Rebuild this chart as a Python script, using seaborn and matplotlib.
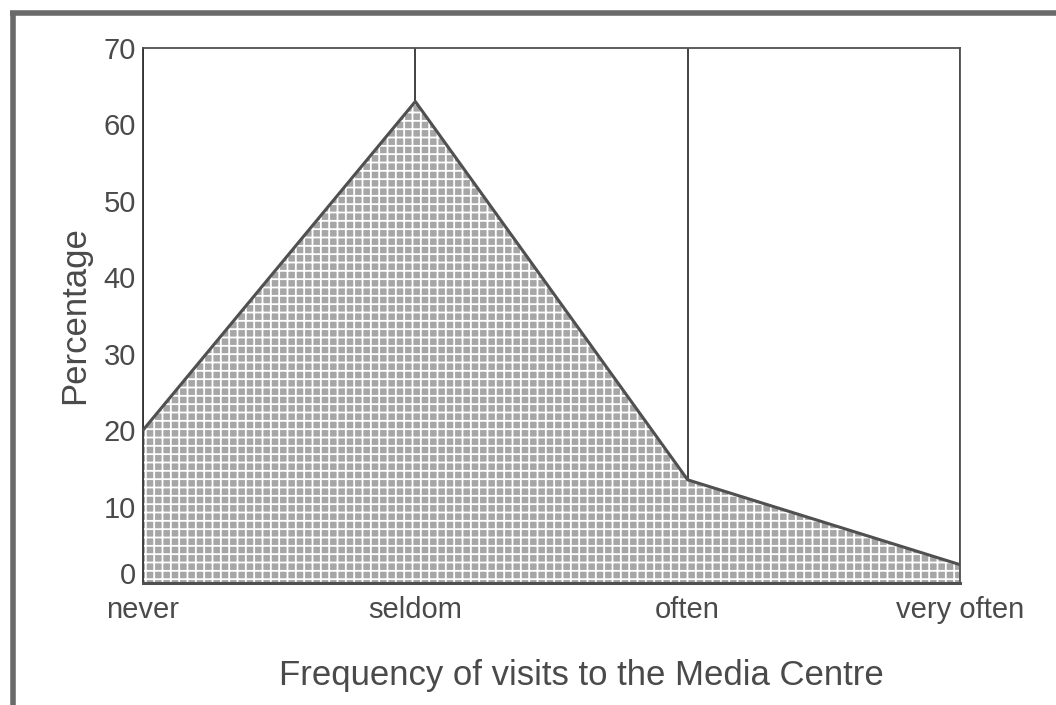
import matplotlib
matplotlib.use("Agg")
import matplotlib.pyplot as plt
import matplotlib.transforms as mtransforms
import seaborn as sns
import pandas as pd
from matplotlib.lines import Line2D

categories = ["never", "seldom", "often", "very often"]
percentages = [20, 63, 13.5, 2.4]
y_ticks = [0, 10, 20, 30, 40, 50, 60, 70]

df = pd.DataFrame({"Frequency": categories, "Percentage": percentages})

sns.set_style("white")
plt.rcParams["font.family"] = ["Liberation Sans", "DejaVu Sans"]
plt.rcParams["hatch.linewidth"] = 1.3

fig = plt.figure(figsize=(10.56, 7.05), dpi=100)
ax = fig.add_axes([143/1056, 1-583/705, (960-143)/1056, (583-48)/705])

pos = list(range(len(categories)))
ax.fill_between(pos, 0, df["Percentage"], facecolor="#a6a6a6", edgecolor="white",
                hatch="++", linewidth=0, zorder=2)
sns.lineplot(data=df, x="Frequency", y="Percentage", sort=False, ax=ax,
             color="#505050", linewidth=2.2, zorder=3)

ax.set_xlim(0, len(categories) - 1)
ax.set_ylim(0, 70)
ax.set_yticks(y_ticks)
ax.set_xticks(pos)
ax.set_xticklabels(categories)

ax.grid(axis="x", color="#222222", linewidth=1.2, zorder=0)
ax.grid(axis="y", visible=False)
ax.set_axisbelow(True)

for side, sp in ax.spines.items():
    sp.set_visible(True)
    sp.set_color("#505050")
    sp.set_linewidth(1.3)
ax.spines["bottom"].set_linewidth(2.2)
ax.spines["left"].set_color("#333333")

ax.tick_params(axis="both", direction="out", length=4, width=4, color="#555555",
               labelsize=21, labelcolor="#4a4a4a")
ax.tick_params(axis="y", pad=1)
ax.tick_params(axis="x", pad=5)

# raise the "0" label slightly, as in the reference
zero_lab = ax.get_yticklabels()[0]
zero_lab.set_transform(zero_lab.get_transform() +
                       mtransforms.ScaledTranslation(0, 10/100, fig.dpi_scale_trans))

ax.set_ylabel("Percentage", fontsize=25, color="#4a4a4a")
ax.set_xlabel("Frequency of visits to the Media Centre", fontsize=25, color="#4a4a4a")
ax.yaxis.set_label_coords((91-143)/817, 0.5)
ax.xaxis.set_label_coords((581-143)/817, -(659-583)/535)

# outer frame (top and left visible)
fig.add_artist(Line2D([10/1056, 1.0], [1-13/705, 1-13/705], transform=fig.transFigure,
                      color="#6a6a6a", linewidth=4, solid_capstyle="butt"))
fig.add_artist(Line2D([13/1056, 13/1056], [0.0, 1-11/705], transform=fig.transFigure,
                      color="#6a6a6a", linewidth=4, solid_capstyle="butt"))

fig.savefig("out.png", dpi=100)
